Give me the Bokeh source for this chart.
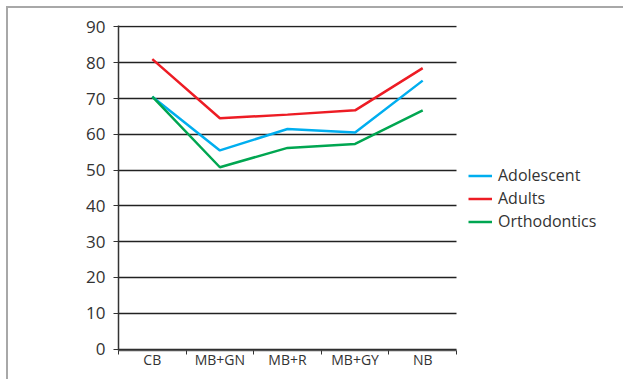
from bokeh.plotting import figure
from bokeh.models import Range1d, FixedTicker, Legend, LegendItem
from bokeh.embed import file_html
from bokeh.resources import INLINE

categories = ["CB", "MB+GN", "MB+R", "MB+GY", "NB"]
adolescent = [70.5, 55.5, 61.5, 60.5, 75.0]
adults = [81.0, 64.5, 65.5, 66.7, 78.5]
orthodontics = [70.5, 50.8, 56.2, 57.3, 66.7]
y_ticks = [0, 10, 20, 30, 40, 50, 60, 70, 80, 90]

n = len(categories)
xs = [i + 0.5 for i in range(n)]

p = figure(width=617, height=373, output_backend="svg", toolbar_location=None,
           x_range=Range1d(0, n * 1.5), y_range=Range1d(-0.4, 90.4),
           min_border_left=110, min_border_right=0, min_border_top=17, min_border_bottom=31)
p.styles = {"border-top": "2px solid #a8a8a8", "border-left": "2px solid #a8a8a8",
            "margin-left": "6px", "margin-top": "6px", "margin-bottom": "-40px"}
p.outline_line_color = None
p.background_fill_color = "white"

r1 = p.line(xs, adolescent, line_color="#00AEEF", line_width=2.5)
r2 = p.line(xs, adults, line_color="#ED1C24", line_width=2.5)
r3 = p.line(xs, orthodontics, line_color="#00A651", line_width=2.5)

p.xgrid.visible = False
p.ygrid.grid_line_color = "#222222"
p.ygrid.grid_line_width = 1.3
p.ygrid.ticker = FixedTicker(ticks=y_ticks)
p.ygrid.cross_bounds = (0, n)

p.yaxis.ticker = FixedTicker(ticks=y_ticks)
p.yaxis.axis_line_color = "#333333"
p.yaxis.axis_line_width = 1.5
p.yaxis.major_tick_out = 5
p.yaxis.major_tick_in = 0
p.yaxis.minor_tick_line_color = None
p.yaxis.major_tick_line_color = "#333333"
p.yaxis.major_label_text_font = "Open Sans"
p.yaxis.major_label_text_font_size = "17px"
p.yaxis.major_label_text_color = "#333333"
p.yaxis.major_label_standoff = 8

p.xaxis.ticker = FixedTicker(ticks=xs, minor_ticks=list(range(n + 1)))
p.xaxis.bounds = (0, n)
p.xaxis.major_label_overrides = {x: c for x, c in zip(xs, categories)}
p.xaxis.major_tick_line_color = None
p.xaxis.major_tick_out = 0
p.xaxis.major_tick_in = 0
p.xaxis.minor_tick_out = 4
p.xaxis.minor_tick_in = 0
p.xaxis.minor_tick_line_color = "#333333"
p.xaxis.axis_line_color = "#555555"
p.xaxis.axis_line_width = 1.5
p.xaxis.major_label_text_font = "Open Sans"
p.xaxis.major_label_text_font_size = "14px"
p.xaxis.major_label_text_color = "#333333"
p.xaxis.major_label_standoff = -5

legend = Legend(items=[LegendItem(label="Adolescent", renderers=[r1]),
                       LegendItem(label="Adults", renderers=[r2]),
                       LegendItem(label="Orthodontics", renderers=[r3])],
                location=(350, 118), padding=0, margin=0, spacing=1,
                glyph_width=24, glyph_height=19, label_height=19,
                label_text_font="Open Sans", label_text_font_size="16px",
                label_text_color="#333333", border_line_color=None,
                background_fill_alpha=0, label_standoff=6)
p.add_layout(legend, "center")

open("out.html", "w").write(file_html(p, INLINE))
